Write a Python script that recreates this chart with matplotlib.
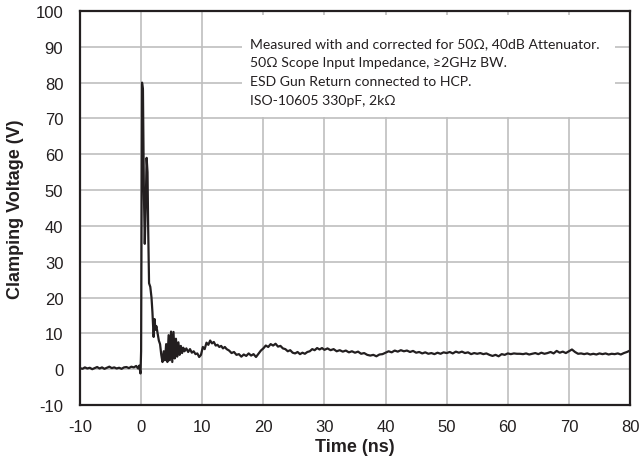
import matplotlib
matplotlib.use("Agg")
import matplotlib.pyplot as plt
from matplotlib.patches import Rectangle

# ESD clamping waveform (time in ns, volts)
pre_t = [-10, -9.6, -9.2, -8.8, -8.4, -8.0, -7.6, -7.2, -6.8, -6.4, -6.0,
         -5.6, -5.2, -4.8, -4.4, -4.0, -3.6, -3.2, -2.8, -2.4, -2.0, -1.6,
         -1.2, -0.8, -0.5, -0.3, -0.1]
pre_v = [0.3, 0.1, 0.5, 0.2, 0.4, 0.0, 0.3, 0.6, 0.2, 0.5, 0.1,
         0.4, 0.7, 0.3, 0.5, 0.2, 0.4, 0.1, 0.5, 0.6, 0.3, 0.7,
         0.5, 0.9, 0.2, 1.0, -1.2]

pulse_t = [0.0, 0.15, 0.3, 0.45, 0.6, 0.75, 0.9, 1.05, 1.15, 1.3, 1.5, 1.7,
           1.85, 2.05, 2.2, 2.35, 2.5, 2.7, 2.9, 3.1, 3.3, 3.5, 3.7, 3.9,
           4.1, 4.3, 4.5, 4.7, 4.9, 5.1, 5.3, 5.5, 5.7, 5.9, 6.1, 6.3, 6.5,
           6.7, 6.9, 7.1, 7.4, 7.7, 8.0, 8.3, 8.6, 8.9, 9.2, 9.5, 9.8]
pulse_v = [5.0, 80.0, 78.0, 50.0, 35.0, 45.0, 59.0, 55.0, 40.0, 24.0, 23.0, 20.0,
           16.0, 9.0, 14.0, 11.0, 12.0, 10.0, 8.0, 7.0, 4.0, 2.0, 5.0, 2.5,
           7.0, 2.0, 9.5, 2.5, 10.5, 2.0, 10.4, 3.0, 8.5, 3.5, 7.5, 4.0, 6.5,
           4.5, 6.0, 5.0, 5.8, 4.8, 5.6, 4.6, 5.0, 4.2, 4.4, 3.4, 4.0]

tail_t = [10.1, 10.4, 10.7, 11.0, 11.3, 11.6, 11.9, 12.2, 12.5, 12.8, 13.1,
          13.4, 13.7, 14.0, 14.4, 14.8, 15.2, 15.6, 16.0, 16.4, 16.8, 17.2,
          17.6, 18.0, 18.4, 18.8, 19.2, 19.6, 20.0, 20.4, 20.8, 21.2, 21.6,
          22.0, 22.4, 22.8, 23.2, 23.6, 24.0, 24.4, 24.8, 25.2, 25.6, 26.0,
          26.4, 26.8, 27.2, 27.6, 28.0, 28.4, 28.8, 29.2, 29.6, 30.0, 30.5,
          31.0, 31.5, 32.0, 32.5, 33.0, 33.5, 34.0, 34.5, 35.0, 35.5, 36.0,
          36.5, 37.0, 37.5, 38.0, 38.5, 39.0, 39.5, 40.0, 40.5, 41.0, 41.5,
          42.0, 42.5, 43.0, 43.5, 44.0, 44.5, 45.0, 45.5, 46.0, 46.5, 47.0,
          47.5, 48.0, 48.5, 49.0, 49.5, 50.0, 50.5, 51.0, 51.5, 52.0, 52.5,
          53.0, 53.5, 54.0, 54.5, 55.0, 55.5, 56.0, 56.5, 57.0, 57.5, 58.0,
          58.5, 59.0, 59.5, 60.0, 60.5, 61.0, 61.5, 62.0, 62.5, 63.0, 63.5,
          64.0, 64.5, 65.0, 65.5, 66.0, 66.5, 67.0, 67.5, 68.0, 68.5, 69.0,
          69.5, 70.0, 70.5, 71.0, 71.5, 72.0, 72.5, 73.0, 73.5, 74.0, 74.5,
          75.0, 75.5, 76.0, 76.5, 77.0, 77.5, 78.0, 78.5, 79.0, 79.5, 80.0]
tail_v = [6.2, 5.6, 7.4, 6.8, 8.0, 7.2, 7.6, 6.6, 6.8, 6.2, 6.5,
          5.8, 6.2, 5.6, 5.2, 4.5, 4.8, 4.0, 4.2, 3.5, 4.1, 3.7,
          4.4, 3.8, 4.2, 3.4, 4.3, 5.2, 5.8, 6.6, 6.2, 7.0, 6.6,
          7.1, 6.3, 6.5, 5.8, 5.6, 5.0, 5.3, 4.6, 4.4, 4.8, 4.2,
          4.6, 4.3, 4.8, 5.0, 5.6, 5.3, 5.9, 5.5, 5.9, 5.4, 5.8,
          5.3, 5.6, 5.0, 5.3, 4.9, 5.2, 4.7, 5.0, 4.6, 4.9, 4.3,
          4.5, 4.0, 3.8, 4.0, 3.6, 4.1, 4.2, 4.6, 5.0, 4.7, 5.2,
          4.9, 5.3, 5.0, 5.2, 4.8, 5.1, 4.6, 4.8, 4.4, 4.7, 4.3,
          4.5, 4.2, 4.6, 4.3, 4.7, 4.5, 4.8, 4.4, 4.9, 4.6, 4.9,
          4.5, 4.7, 4.2, 4.5, 4.3, 4.5, 4.2, 4.4, 4.0, 3.7, 4.0,
          3.6, 4.2, 4.0, 4.4, 4.2, 4.4, 4.3, 4.3, 4.2, 4.4, 4.1,
          4.3, 4.5, 4.2, 4.6, 4.3, 4.5, 4.8, 4.4, 5.1, 4.6, 4.9,
          4.5, 5.0, 5.5, 4.8, 4.3, 4.4, 4.2, 4.4, 4.1, 4.3, 4.1,
          4.4, 4.2, 4.4, 4.1, 4.3, 4.2, 4.4, 4.1, 4.5, 4.8, 5.2]

time_ns = pre_t + pulse_t + tail_t
voltage_v = pre_v + pulse_v + tail_v

x_ticks = list(range(-10, 81, 10))
y_ticks = list(range(-10, 101, 10))

note_lines = [
    "Measured with and corrected for 50\u03a9, 40dB Attenuator.",
    "50\u03a9 Scope Input Impedance, \u22652GHz BW.",
    "ESD Gun Return connected to HCP.",
    "ISO-10605 330pF, 2k\u03a9",
]
note_y = [90.9, 85.8, 80.4, 75.1]

plt.rcParams["font.family"] = ["Liberation Sans", "DejaVu Sans"]
plt.rcParams["axes.unicode_minus"] = False
ink = "#231f20"

fig = plt.figure(figsize=(6.41, 4.64), dpi=100)
ax = fig.add_axes([80 / 641, 1 - 406 / 464, 550 / 641, 394 / 464])

ax.plot(time_ns, voltage_v, color=ink, lw=1.6, zorder=4)

ax.set_xlim(-10, 80)
ax.set_ylim(-10, 100)
ax.set_xticks(x_ticks)
ax.set_yticks(y_ticks)
ax.grid(True, color="#bfbfbf", lw=1.2, zorder=0)
ax.set_axisbelow(True)
ax.tick_params(length=0, labelsize=12, colors=ink)
ax.tick_params(axis="x", pad=10)
ax.tick_params(axis="y", pad=12)
for s in ax.spines.values():
    s.set_color(ink)
    s.set_linewidth(1.6)

# white panel behind the note, hiding the grid
ax.add_patch(Rectangle((16.5, 70.5), 61.0, 28.5, facecolor="white",
                       edgecolor="none", zorder=2))
for line, yv in zip(note_lines, note_y):
    ax.text(17.9, yv, line, fontsize=10.1, color=ink, va="center",
            family=["Lato", "DejaVu Sans"], zorder=3)

ax.set_xlabel("Time (ns)", fontsize=13, fontweight="bold", color=ink, labelpad=3)
ax.set_ylabel("Clamping Voltage (V)", fontsize=13, fontweight="bold",
              color=ink, labelpad=8)

fig.savefig("out.png", dpi=100)
